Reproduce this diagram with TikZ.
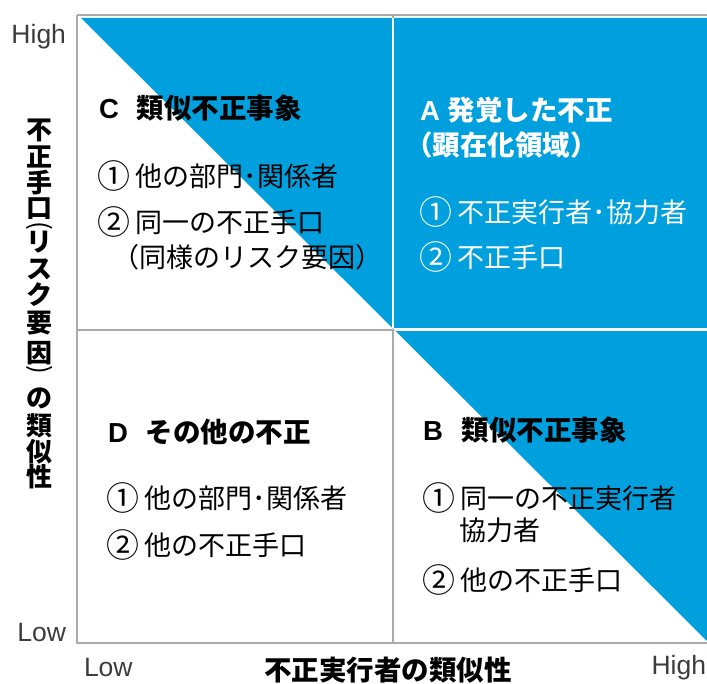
\documentclass[tikz,border=0pt]{standalone}
\usepackage{fontspec}
\setmainfont{Noto Sans CJK JP}
\newfontfamily\lat{Liberation Sans}
\definecolor{qblue}{RGB}{0,160,222}
\definecolor{framegray}{RGB}{170,170,170}
\definecolor{lblgray}{RGB}{60,60,60}
\newcommand{\cnum}[1]{\raisebox{-0.06em}{\scalebox{1.22}{#1}}\hspace{6pt}}
\begin{document}
\begin{tikzpicture}[x=1pt,y=-1pt,
  every node/.style={inner sep=0pt,outer sep=0pt},
  frameline/.style={draw=framegray,line width=2pt},
  heading/.style={anchor=west,font=\fontsize{27.5}{30}\selectfont\bfseries},
  item/.style={anchor=west,font=\fontsize{27}{30}\selectfont},
  axislbl/.style={font=\fontsize{26.5}{30}\selectfont\lat,text=lblgray},
  axistitle/.style={font=\fontsize{26}{26}\selectfont\bfseries},
  parenarc/.style={font=\fontsize{26}{26}\selectfont}]
\useasboundingbox (0,0) rectangle (707,684);
% frame and dividers
\draw[frameline] (77,15) -- (707,15);
\draw[frameline] (77,15) -- (77,643) -- (707,643);
\draw[frameline] (393,15) -- (393,643);
\draw[frameline] (77,330) -- (707,330);
% blue triangle
\fill[qblue] (81,18) -- (707,18) -- (707,641) -- cycle;
\begin{scope}
  \clip (81,18) -- (707,18) -- (707,641) -- cycle;
  \draw[white,line width=2.5pt] (393,15) -- (393,643);
  \draw[white,line width=2.5pt] (77,329.5) -- (707,329.5);
\end{scope}
% axis labels
\node[axislbl,anchor=east] (yhigh) at (66,37) {High};
\node[axislbl,anchor=east] (ylow) at (66,633) {Low};
\node[axislbl,anchor=west] (xlow) at (84,668) {Low};
\node[axislbl,anchor=east] (xhigh) at (706,668) {High};
\node[axistitle,font=\fontsize{27.5}{28}\selectfont\bfseries] (xtitle) at (388,670) {不正実行者の類似性};
% vertical axis title
\foreach \ch/\yy [count=\i] in {不/130,正/157,手/183,口/209,リ/242,ス/269,ク/295,要/323,因/353,の/398,類/426,似/452,性/477}
  \node[axistitle] (yt\i) at (40,\yy) {\ch};
\node[parenarc,rotate=-90] (ytpo) at (40,226) {(};
\node[parenarc,rotate=-90] (ytpc) at (40,370) {)};
% C quadrant
\node[heading] (cH) at (99,108) {{\lat C}\hspace{18pt}類似不正事象};
\node[item] (c1) at (97,176) {\cnum{①}他の部門･関係者};
\node[item] (c2) at (97,222) {\cnum{②}同一の不正手口};
\node[item] (c3) at (112,257) {（同様のリスク要因）};
% A quadrant
\node[heading,text=white] (aH) at (420,110) {{\lat A}\hspace{8pt}発覚した不正};
\node[heading,text=white] (aH2) at (405,145) {（顕在化領域）};
\node[item,text=white] (a1) at (419,212) {\cnum{①}不正実行者･協力者};
\node[item,text=white] (a2) at (419,257) {\cnum{②}不正手口};
% D quadrant
\node[heading] (dH) at (108,432) {{\lat D}\hspace{18pt}その他の不正};
\node[item] (d1) at (106,498) {\cnum{①}他の部門･関係者};
\node[item] (d2) at (106,545) {\cnum{②}他の不正手口};
% B quadrant
\node[heading] (bH) at (423,430) {{\lat B}\hspace{19pt}類似不正事象};
\node[item] (b1) at (422,498) {\cnum{①}同一の不正実行者};
\node[item] (b1b) at (459,530) {協力者};
\node[item] (b2) at (422,580) {\cnum{②}他の不正手口};
\end{tikzpicture}
\end{document}
